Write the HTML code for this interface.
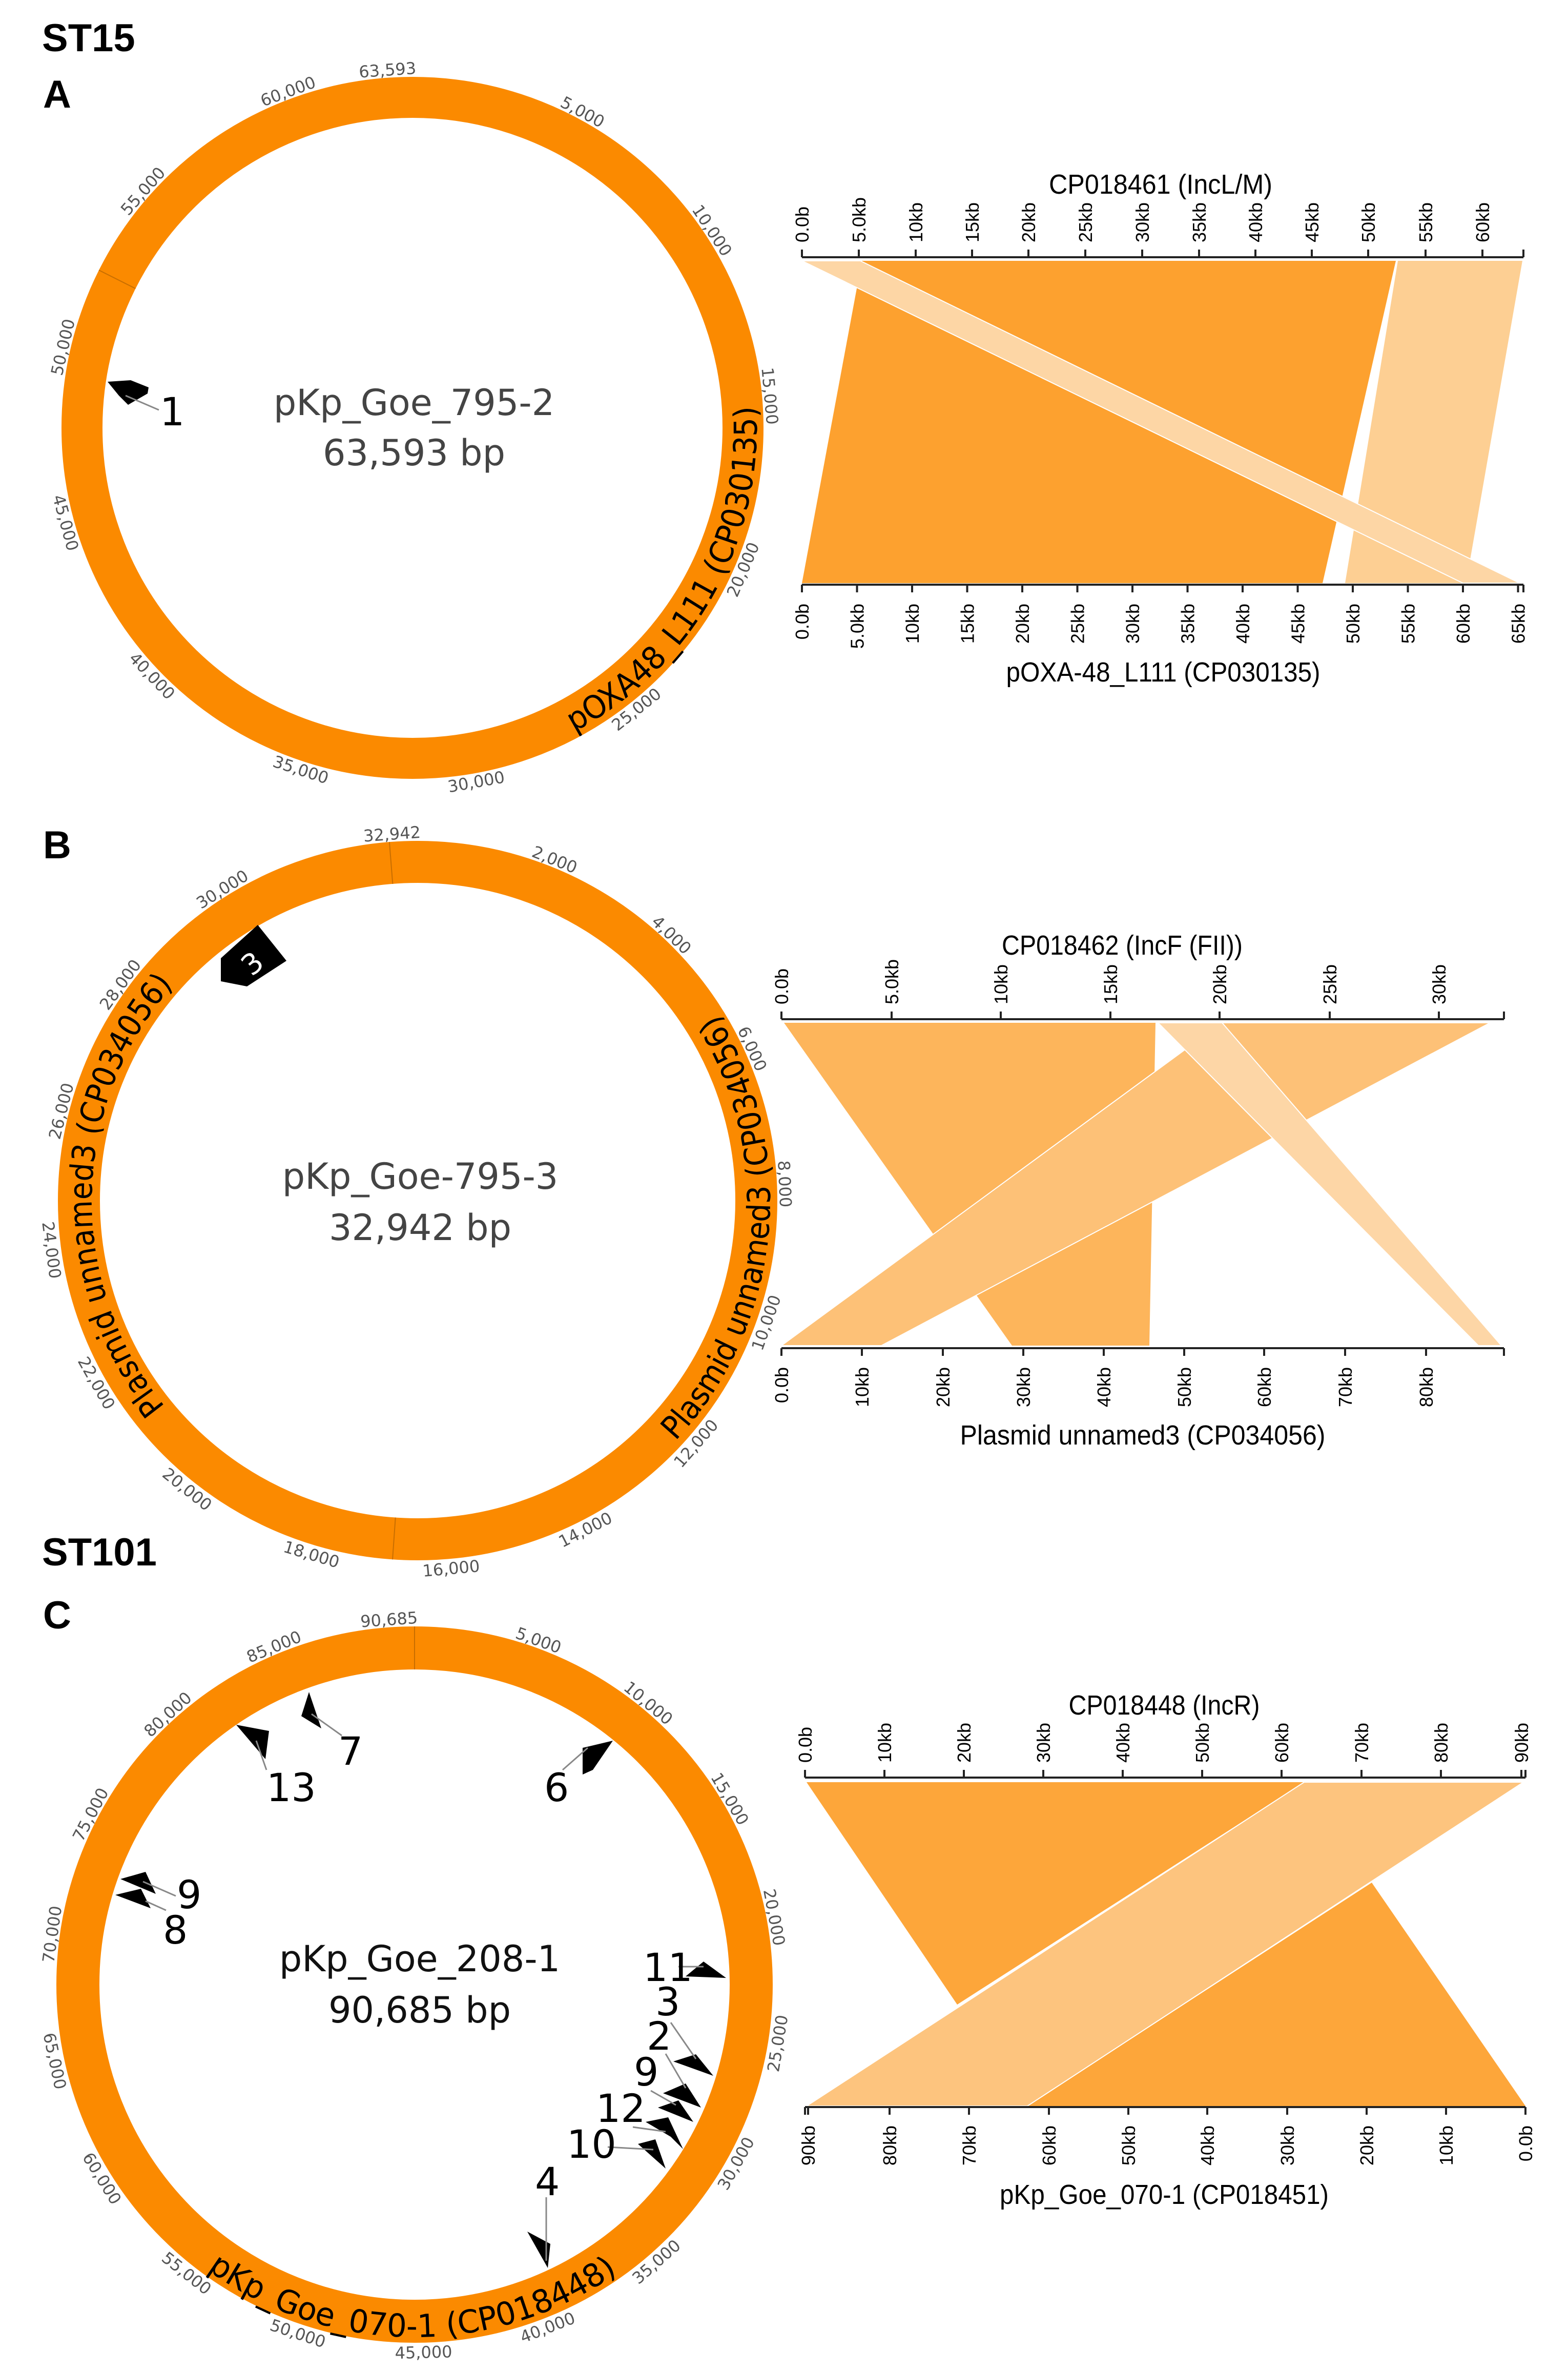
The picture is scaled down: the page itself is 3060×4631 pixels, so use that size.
<!DOCTYPE html>
<html><head><meta charset="utf-8"><style>
html,body{margin:0;padding:0;background:#fff;}
svg{display:block;}
.h{font-family:"Liberation Sans",sans-serif;font-weight:bold;font-size:76px;fill:#000;}
.tk{font-family:"DejaVu Sans","Liberation Sans",sans-serif;font-size:32px;fill:#555;}
.ctr{font-family:"DejaVu Sans","Liberation Sans",sans-serif;font-size:70px;fill:#444;text-anchor:middle;}
.arc{font-family:"DejaVu Sans","Liberation Sans",sans-serif;font-size:62px;fill:#000;}
.gn{font-family:"DejaVu Sans","Liberation Sans",sans-serif;font-size:76px;fill:#000;}
.ax{font-family:"Liberation Sans",sans-serif;font-size:36px;fill:#000;}
.tt{font-family:"Liberation Sans Narrow","Liberation Sans",sans-serif;font-size:54px;fill:#000;text-anchor:middle;}
</style></head><body>
<svg width="3060" height="4631" viewBox="0 0 3060 4631" xmlns="http://www.w3.org/2000/svg">
<rect width="3060" height="4631" fill="#fff"/>
<text class="h" x="82" y="100">ST15</text>
<text class="h" x="84" y="210">A</text>
<text class="h" x="84" y="1675">B</text>
<text class="h" x="82" y="3055">ST101</text>
<text class="h" x="84" y="3178">C</text>

<!-- ===== Circle A ===== -->
<circle cx="805" cy="835" r="645" fill="none" stroke="#fb8a00" stroke-width="80"/>
<line x1="805" y1="230" x2="805" y2="150" stroke="#c86e00" stroke-width="2" transform="rotate(296.7 805 835)"/>
<g class="tk" text-anchor="middle">
<text x="805" y="146" transform="rotate(-4 805 835)">63,593</text>
<text x="805" y="146" transform="rotate(28.3 805 835)">5,000</text>
<text x="805" y="146" transform="rotate(56.6 805 835)">10,000</text>
<text x="805" y="146" transform="rotate(84.9 805 835)">15,000</text>
<text x="805" y="1548" transform="rotate(-66.8 805 835)">20,000</text>
<text x="805" y="1548" transform="rotate(-38.5 805 835)">25,000</text>
<text x="805" y="1548" transform="rotate(-10.2 805 835)">30,000</text>
<text x="805" y="1548" transform="rotate(18.1 805 835)">35,000</text>
<text x="805" y="1548" transform="rotate(46.4 805 835)">40,000</text>
<text x="805" y="1548" transform="rotate(74.7 805 835)">45,000</text>
<text x="805" y="146" transform="rotate(283 805 835)">50,000</text>
<text x="805" y="146" transform="rotate(311.3 805 835)">55,000</text>
<text x="805" y="146" transform="rotate(339.7 805 835)">60,000</text>
</g>
<path id="pa" d="M 1120.5 1428.3 A 672 672 0 0 0 1436.5 605.2" fill="none"/>
<text class="arc"><textPath href="#pa" textLength="770" lengthAdjust="spacingAndGlyphs">pOXA48_L111 (CP030135)</textPath></text>
<text class="ctr" x="808" y="810">pKp_Goe_795-2</text>
<text class="ctr" x="808" y="908">63,593 bp</text>
<polygon points="210,745,255,742,290,756,288,768,250,790,232,772" fill="#000"/>
<line x1="245" y1="772" x2="310" y2="800" stroke="#888" stroke-width="3"/>
<text class="gn" x="312" y="830" font-size="66">1</text>

<!-- ===== Circle B ===== -->
<circle cx="815" cy="2343" r="661" fill="none" stroke="#fb8a00" stroke-width="82"/>
<line x1="815" y1="1723" x2="815" y2="1641" stroke="#c86e00" stroke-width="2" transform="rotate(-4.5 815 2343)"/>
<line x1="815" y1="2963" x2="815" y2="3045" stroke="#c86e00" stroke-width="2" transform="rotate(4 815 2343)"/>
<g class="tk" text-anchor="middle">
<text x="815" y="1637" transform="rotate(-4 815 2343)">32,942</text>
<text x="815" y="1637" transform="rotate(21.9 815 2343)">2,000</text>
<text x="815" y="1637" transform="rotate(43.7 815 2343)">4,000</text>
<text x="815" y="1637" transform="rotate(65.6 815 2343)">6,000</text>
<text x="815" y="1637" transform="rotate(87.4 815 2343)">8,000</text>
<text x="815" y="3075" transform="rotate(-70.7 815 2343)">10,000</text>
<text x="815" y="3075" transform="rotate(-48.9 815 2343)">12,000</text>
<text x="815" y="3075" transform="rotate(-27 815 2343)">14,000</text>
<text x="815" y="3075" transform="rotate(-5.2 815 2343)">16,000</text>
<text x="815" y="3075" transform="rotate(16.7 815 2343)">18,000</text>
<text x="815" y="3075" transform="rotate(38.6 815 2343)">20,000</text>
<text x="815" y="3075" transform="rotate(60.4 815 2343)">22,000</text>
<text x="815" y="3075" transform="rotate(82.3 815 2343)">24,000</text>
<text x="815" y="1637" transform="rotate(284.1 815 2343)">26,000</text>
<text x="815" y="1637" transform="rotate(306 815 2343)">28,000</text>
<text x="815" y="1637" transform="rotate(327.9 815 2343)">30,000</text>
</g>
<path id="pbl" d="M 322.2 2744.9 A 636 636 0 0 1 406.2 1855.8" fill="none"/>
<text class="arc"><textPath href="#pbl" textLength="895" lengthAdjust="spacingAndGlyphs">Plasmid unnamed3 (CP034056)</textPath></text>
<path id="pbr" d="M 1318.2 2812.2 A 688 688 0 0 0 1257.2 1816" fill="none"/>
<text class="arc"><textPath href="#pbr" textLength="900" lengthAdjust="spacingAndGlyphs">Plasmid unnamed3 (CP034056)</textPath></text>
<text class="ctr" x="820" y="2320">pKp_Goe-795-3</text>
<text class="ctr" x="820" y="2420">32,942 bp</text>
<polygon points="431,1870,503,1805,559,1875,482,1925,431,1915" fill="#000"/>
<text x="492" y="1900" font-family="DejaVu Sans,sans-serif" font-size="56" fill="#fff" text-anchor="middle" transform="rotate(-40 492 1880)">3</text>

<!-- ===== Circle C ===== -->
<circle cx="809" cy="3873" r="657" fill="none" stroke="#fb8a00" stroke-width="84"/>
<line x1="809" y1="3258" x2="809" y2="3174" stroke="#c86e00" stroke-width="2"/>
<g class="tk" text-anchor="middle">
<text x="809" y="3170" transform="rotate(-4 809 3873)">90,685</text>
<text x="809" y="3170" transform="rotate(19.8 809 3873)">5,000</text>
<text x="809" y="3170" transform="rotate(39.7 809 3873)">10,000</text>
<text x="809" y="3170" transform="rotate(59.5 809 3873)">15,000</text>
<text x="809" y="3170" transform="rotate(79.4 809 3873)">20,000</text>
<text x="809" y="4602" transform="rotate(-80.8 809 3873)">25,000</text>
<text x="809" y="4602" transform="rotate(-60.9 809 3873)">30,000</text>
<text x="809" y="4602" transform="rotate(-41.1 809 3873)">35,000</text>
<text x="809" y="4602" transform="rotate(-21.2 809 3873)">40,000</text>
<text x="809" y="4602" transform="rotate(-1.4 809 3873)">45,000</text>
<text x="809" y="4602" transform="rotate(18.5 809 3873)">50,000</text>
<text x="809" y="4602" transform="rotate(38.3 809 3873)">55,000</text>
<text x="809" y="4602" transform="rotate(58.2 809 3873)">60,000</text>
<text x="809" y="4602" transform="rotate(78 809 3873)">65,000</text>
<text x="809" y="3170" transform="rotate(277.9 809 3873)">70,000</text>
<text x="809" y="3170" transform="rotate(297.7 809 3873)">75,000</text>
<text x="809" y="3170" transform="rotate(317.6 809 3873)">80,000</text>
<text x="809" y="3170" transform="rotate(337.4 809 3873)">85,000</text>
</g>
<path id="pc" d="M 404.6 4429.6 A 688 688 0 0 0 1336 4315.2" fill="none"/>
<text class="arc" font-size="66"><textPath href="#pc" textLength="855" lengthAdjust="spacingAndGlyphs">pKp_Goe_070-1 (CP018448)</textPath></text>
<text class="ctr" x="819" y="3847" style="fill:#111">pKp_Goe_208-1</text>
<text class="ctr" x="819" y="3947" style="fill:#111">90,685 bp</text>
<g fill="#000">
<polygon points="461,3366,525,3378,518,3433"/>
<polygon points="603,3302,588,3349,627,3373"/>
<polygon points="1137,3411,1196,3397,1157,3454,1137,3463"/>
<polygon points="235,3667,284,3653,304,3696"/>
<polygon points="225,3698,275,3686,294,3724"/>
<polygon points="1338,3857,1373,3828,1417,3860"/>
<polygon points="1314,4023,1358,4009,1392,4051"/>
<polygon points="1294,4085,1338,4066,1368,4113"/>
<polygon points="1284,4113,1324,4099,1353,4141"/>
<polygon points="1260,4141,1304,4132,1333,4194,1309,4170"/>
<polygon points="1245,4184,1279,4175,1299,4232"/>
<polygon points="1029,4355,1074,4379,1069,4426"/>
</g>
<g stroke="#888" stroke-width="3">
<line x1="500" y1="3397" x2="520" y2="3454"/>
<line x1="608" y1="3345" x2="667" y2="3387"/>
<line x1="1098" y1="3454" x2="1147" y2="3411"/>
<line x1="279" y1="3672" x2="343" y2="3700"/>
<line x1="284" y1="3710" x2="324" y2="3728"/>
<line x1="1324" y1="3838" x2="1373" y2="3838"/>
<line x1="1309" y1="3947" x2="1358" y2="4018"/>
<line x1="1299" y1="4008" x2="1338" y2="4075"/>
<line x1="1270" y1="4080" x2="1319" y2="4108"/>
<line x1="1235" y1="4151" x2="1299" y2="4160"/>
<line x1="1186" y1="4190" x2="1275" y2="4195"/>
<line x1="1066" y1="4288" x2="1066" y2="4412"/>
</g>
<g class="gn">
<text x="520" y="3515">13</text>
<text x="660" y="3444">7</text>
<text x="1062" y="3515">6</text>
<text x="345" y="3724">9</text>
<text x="318" y="3793">8</text>
<text x="1255" y="3866">11</text>
<text x="1279" y="3933">3</text>
<text x="1262" y="4000">2</text>
<text x="1237" y="4070">9</text>
<text x="1163" y="4141">12</text>
<text x="1106" y="4211">10</text>
<text x="1044" y="4284">4</text>
</g>

<!-- ===== Comparison A ===== -->
<polygon points="1682,509,2724,509,2581,1138,1565,1138" fill="#fda12f"/>
<polygon points="2728,509,2971,509,2861,1138,2625,1138" fill="#fdcf93"/>
<polygon points="1565,509,1679,509,2966,1138,2855,1138" fill="#fdd6a5" stroke="#fff" stroke-width="2"/>
<g stroke="#222" stroke-width="4" fill="none">
<line x1="1565" y1="502" x2="2973" y2="502"/>
<path d="M1565 487V502M1676 487V502M1787 487V502M1897 487V502M2007 487V502M2118 487V502M2229 487V502M2340 487V502M2450 487V502M2560 487V502M2670 487V502M2782 487V502M2893 487V502M2973 487V502"/>
<line x1="1565" y1="1141" x2="2973" y2="1141"/>
<path d="M1565 1141V1156M1672.5 1141V1156M1780 1141V1156M1887.5 1141V1156M1995 1141V1156M2102.5 1141V1156M2210 1141V1156M2317.5 1141V1156M2425 1141V1156M2532.5 1141V1156M2640 1141V1156M2747.5 1141V1156M2855 1141V1156M2962.5 1141V1156M2973 1141V1156"/>
</g>
<g class="ax">
<text transform="translate(1578,473) rotate(-90)">0.0b</text>
<text transform="translate(1689,473) rotate(-90)">5.0kb</text>
<text transform="translate(1800,473) rotate(-90)">10kb</text>
<text transform="translate(1910,473) rotate(-90)">15kb</text>
<text transform="translate(2020,473) rotate(-90)">20kb</text>
<text transform="translate(2131,473) rotate(-90)">25kb</text>
<text transform="translate(2242,473) rotate(-90)">30kb</text>
<text transform="translate(2353,473) rotate(-90)">35kb</text>
<text transform="translate(2463,473) rotate(-90)">40kb</text>
<text transform="translate(2573,473) rotate(-90)">45kb</text>
<text transform="translate(2683,473) rotate(-90)">50kb</text>
<text transform="translate(2795,473) rotate(-90)">55kb</text>
<text transform="translate(2906,473) rotate(-90)">60kb</text>
</g>
<g class="ax" text-anchor="end">
<text transform="translate(1578,1178) rotate(-90)">0.0b</text>
<text transform="translate(1685.5,1178) rotate(-90)">5.0kb</text>
<text transform="translate(1793,1178) rotate(-90)">10kb</text>
<text transform="translate(1900.5,1178) rotate(-90)">15kb</text>
<text transform="translate(2008,1178) rotate(-90)">20kb</text>
<text transform="translate(2115.5,1178) rotate(-90)">25kb</text>
<text transform="translate(2223,1178) rotate(-90)">30kb</text>
<text transform="translate(2330.5,1178) rotate(-90)">35kb</text>
<text transform="translate(2438,1178) rotate(-90)">40kb</text>
<text transform="translate(2545.5,1178) rotate(-90)">45kb</text>
<text transform="translate(2653,1178) rotate(-90)">50kb</text>
<text transform="translate(2760.5,1178) rotate(-90)">55kb</text>
<text transform="translate(2868,1178) rotate(-90)">60kb</text>
<text transform="translate(2975.5,1178) rotate(-90)">65kb</text>
</g>
<text class="tt" x="2265" y="378" textLength="436" lengthAdjust="spacingAndGlyphs">CP018461 (IncL/M)</text>
<text class="tt" x="2270" y="1330" textLength="613" lengthAdjust="spacingAndGlyphs">pOXA-48_L111 (CP030135)</text>

<!-- ===== Comparison B ===== -->
<polygon points="1530,1996,2255,1996,2243,2626,1975,2626" fill="#fdb55b"/>
<polygon points="2384,1996,2908,1996,1720,2626,1525,2626" fill="#fdc177" stroke="#fff" stroke-width="2"/>
<polygon points="2260,1996,2385,1996,2930,2626,2885,2626" fill="#fdd6a6" stroke="#fff" stroke-width="2"/>
<g stroke="#222" stroke-width="4" fill="none">
<line x1="1525" y1="1989" x2="2935" y2="1989"/>
<path d="M1525 1974V1989M1740 1974V1989M1953 1974V1989M2167 1974V1989M2380 1974V1989M2595 1974V1989M2808 1974V1989M2935 1974V1989"/>
<line x1="1525" y1="2631" x2="2935" y2="2631"/>
<path d="M1525 2631V2646M1682 2631V2646M1840 2631V2646M1997 2631V2646M2154 2631V2646M2311 2631V2646M2467 2631V2646M2625 2631V2646M2783 2631V2646M2935 2631V2646"/>
</g>
<g class="ax">
<text transform="translate(1538,1960) rotate(-90)">0.0b</text>
<text transform="translate(1753,1960) rotate(-90)">5.0kb</text>
<text transform="translate(1966,1960) rotate(-90)">10kb</text>
<text transform="translate(2180,1960) rotate(-90)">15kb</text>
<text transform="translate(2393,1960) rotate(-90)">20kb</text>
<text transform="translate(2608,1960) rotate(-90)">25kb</text>
<text transform="translate(2821,1960) rotate(-90)">30kb</text>
</g>
<g class="ax" text-anchor="end">
<text transform="translate(1538,2668) rotate(-90)">0.0b</text>
<text transform="translate(1695,2668) rotate(-90)">10kb</text>
<text transform="translate(1853,2668) rotate(-90)">20kb</text>
<text transform="translate(2010,2668) rotate(-90)">30kb</text>
<text transform="translate(2167,2668) rotate(-90)">40kb</text>
<text transform="translate(2324,2668) rotate(-90)">50kb</text>
<text transform="translate(2480,2668) rotate(-90)">60kb</text>
<text transform="translate(2638,2668) rotate(-90)">70kb</text>
<text transform="translate(2796,2668) rotate(-90)">80kb</text>
</g>
<text class="tt" x="2190" y="1863" textLength="470" lengthAdjust="spacingAndGlyphs">CP018462 (IncF (FII))</text>
<text class="tt" x="2230" y="2819" textLength="713" lengthAdjust="spacingAndGlyphs">Plasmid unnamed3 (CP034056)</text>

<!-- ===== Comparison C ===== -->
<polygon points="1574,3478,2545,3478,1868,3912" fill="#fda63a"/>
<polygon points="2677,3674,2977,4110,2005,4110" fill="#fda63a"/>
<polygon points="2545,3478,2973,3478,2005,4110,1574,4110" fill="#fdc47e" stroke="#fff" stroke-width="2"/>
<g stroke="#222" stroke-width="4" fill="none">
<line x1="1571" y1="3469" x2="2977" y2="3469"/>
<path d="M1571 3454V3469M1726 3454V3469M1881 3454V3469M2036 3454V3469M2191 3454V3469M2346 3454V3469M2501 3454V3469M2657 3454V3469M2812 3454V3469M2969 3454V3469M2977 3454V3469"/>
<line x1="1571" y1="4112" x2="2977" y2="4112"/>
<path d="M1571 4112V4127M1577 4112V4127M1736 4112V4127M1891 4112V4127M2047 4112V4127M2202 4112V4127M2356 4112V4127M2512 4112V4127M2667 4112V4127M2822 4112V4127M2977 4112V4127"/>
</g>
<g class="ax">
<text transform="translate(1584,3440) rotate(-90)">0.0b</text>
<text transform="translate(1739,3440) rotate(-90)">10kb</text>
<text transform="translate(1894,3440) rotate(-90)">20kb</text>
<text transform="translate(2049,3440) rotate(-90)">30kb</text>
<text transform="translate(2204,3440) rotate(-90)">40kb</text>
<text transform="translate(2359,3440) rotate(-90)">50kb</text>
<text transform="translate(2514,3440) rotate(-90)">60kb</text>
<text transform="translate(2670,3440) rotate(-90)">70kb</text>
<text transform="translate(2825,3440) rotate(-90)">80kb</text>
<text transform="translate(2982,3440) rotate(-90)">90kb</text>
</g>
<g class="ax" text-anchor="end">
<text transform="translate(1590,4148) rotate(-90)">90kb</text>
<text transform="translate(1749,4148) rotate(-90)">80kb</text>
<text transform="translate(1904,4148) rotate(-90)">70kb</text>
<text transform="translate(2060,4148) rotate(-90)">60kb</text>
<text transform="translate(2215,4148) rotate(-90)">50kb</text>
<text transform="translate(2369,4148) rotate(-90)">40kb</text>
<text transform="translate(2525,4148) rotate(-90)">30kb</text>
<text transform="translate(2680,4148) rotate(-90)">20kb</text>
<text transform="translate(2835,4148) rotate(-90)">10kb</text>
<text transform="translate(2990,4148) rotate(-90)">0.0b</text>
</g>
<text class="tt" x="2272" y="3346" textLength="373" lengthAdjust="spacingAndGlyphs">CP018448 (IncR)</text>
<text class="tt" x="2272" y="4301" textLength="642" lengthAdjust="spacingAndGlyphs">pKp_Goe_070-1 (CP018451)</text>
</svg>
</body></html>
